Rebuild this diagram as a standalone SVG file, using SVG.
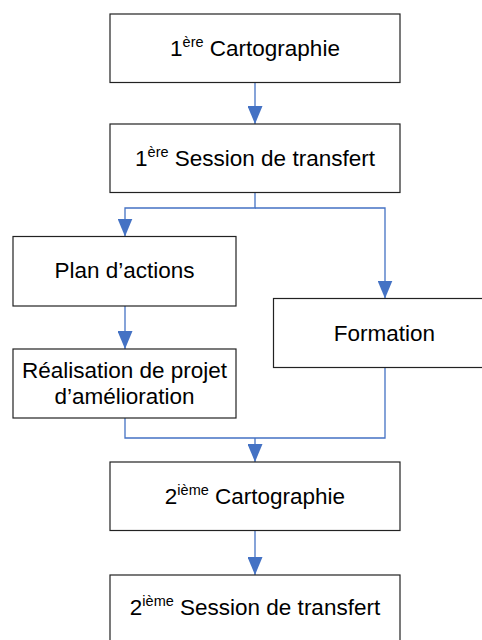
<svg xmlns="http://www.w3.org/2000/svg" width="482" height="640" viewBox="0 0 482 640">
<style>
.box{fill:#fff;stroke:#222;stroke-width:1.2}
.lbl{font-family:"Liberation Sans",Arial,sans-serif;font-size:22.5px;fill:#000;text-anchor:middle}
.sup{font-size:14.5px}
.con{fill:none;stroke:#4472C4;stroke-width:1.3}
</style>
<defs>
<marker id="ah" viewBox="0 0 18 15" refX="18" refY="7.5" markerWidth="18" markerHeight="15" markerUnits="userSpaceOnUse" orient="auto">
<path d="M0,0 L18,7.5 L0,15 z" fill="#4472C4"/>
</marker>
</defs>
<rect width="482" height="640" fill="#fff"/>
<g id="connectors">
<path class="con" d="M255,82.5 V124" marker-end="url(#ah)"/>
<path class="con" d="M255,192.5 V208 H125 V236.5" marker-end="url(#ah)"/>
<path class="con" d="M255,208 H385 V298.5" marker-end="url(#ah)"/>
<path class="con" d="M125,306 V349" marker-end="url(#ah)"/>
<path class="con" d="M125,418 V438 H385 V368"/>
<path class="con" d="M255,438 V462" marker-end="url(#ah)"/>
<path class="con" d="M255,530.5 V575" marker-end="url(#ah)"/>
</g>
<g id="carto1">
<rect class="box" x="110" y="14" width="290" height="68.5"/>
<text class="lbl" x="255" y="56">1<tspan class="sup" dy="-9">ère</tspan><tspan dy="9"> Cartographie</tspan></text>
</g>
<g id="session1">
<rect class="box" x="110" y="124" width="290" height="68.5"/>
<text class="lbl" x="255" y="166">1<tspan class="sup" dy="-9">ère</tspan><tspan dy="9"> Session de transfert</tspan></text>
</g>
<g id="plan">
<rect class="box" x="13" y="236.5" width="223" height="69.5"/>
<text class="lbl" x="124.5" y="278">Plan d’actions</text>
</g>
<g id="realisation">
<rect class="box" x="13" y="349" width="223" height="69"/>
<text class="lbl" x="124.5" y="377.5">Réalisation de projet</text>
<text class="lbl" x="124.5" y="403.5">d’amélioration</text>
</g>
<g id="formation">
<rect class="box" x="273.5" y="298.5" width="224" height="69"/>
<text class="lbl" x="384.5" y="341">Formation</text>
</g>
<g id="carto2">
<rect class="box" x="110" y="462" width="290" height="68.5"/>
<text class="lbl" x="255" y="503.5">2<tspan class="sup" dy="-9">ième</tspan><tspan dy="9"> Cartographie</tspan></text>
</g>
<g id="session2">
<rect class="box" x="110" y="575" width="290" height="80"/>
<text class="lbl" x="255" y="615">2<tspan class="sup" dy="-9">ième</tspan><tspan dy="9"> Session de transfert</tspan></text>
</g>
</svg>
